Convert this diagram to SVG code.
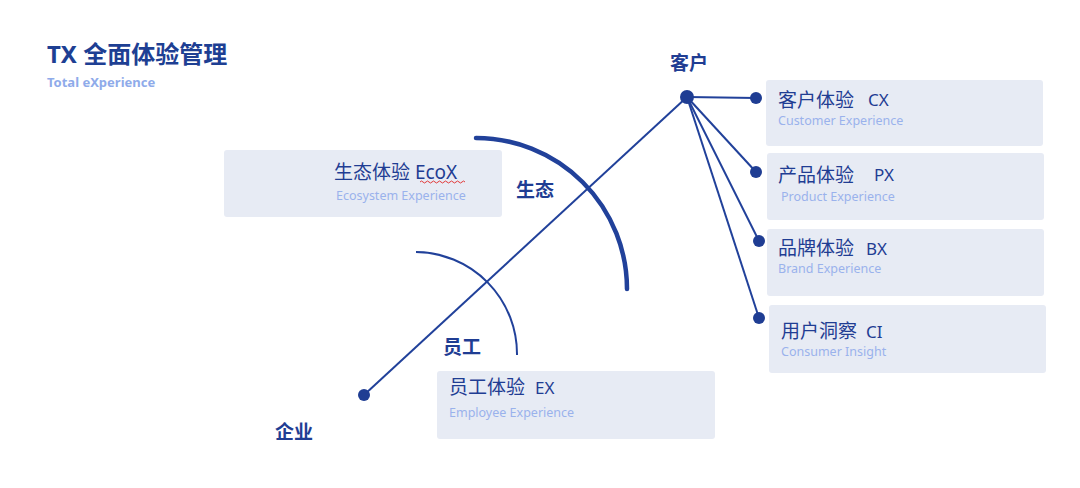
<svg xmlns="http://www.w3.org/2000/svg" width="1080" height="488" viewBox="0 0 1080 488">
<style>
text{font-family:"Noto Sans","Noto Sans CJK SC",sans-serif}
.box{fill:#E7EBF4;}
.main{fill:#1F3D93;font-size:19px}
.sub{fill:#9AB2EC;font-size:12.5px}
.lbl{fill:#1F3D93;font-size:19px;font-weight:bold}
.ln{stroke:#21419A;stroke-width:2;fill:none}
.dot{fill:#1F3D93}
</style>
<rect width="1080" height="488" fill="#fff"/>
<g id="title">
<text x="47" y="63" style="font-size:24px;font-weight:bold;fill:#1E3F93">TX 全面体验管理</text>
<text x="47" y="87" style="font-size:13px;font-weight:bold;fill:#8FABEA">Total eXperience</text>
</g>
<g id="arcs">
<path d="M476,138 A151,151 0 0 1 627,289" stroke="#21419A" stroke-width="4.5" fill="none" stroke-linecap="round"/>
<path d="M416,252 A102,102 0 0 1 517,355" class="ln"/>
</g>
<g id="connectors">
<line x1="364" y1="395" x2="687" y2="97" class="ln"/>
<line x1="687" y1="97" x2="756" y2="98" class="ln"/>
<line x1="687" y1="97" x2="756" y2="172" class="ln"/>
<line x1="687" y1="97" x2="759" y2="241" class="ln"/>
<line x1="687" y1="97" x2="759" y2="318" class="ln"/>
<circle cx="364" cy="395" r="6" class="dot"/>
<circle cx="687" cy="97" r="7" class="dot"/>
<circle cx="756" cy="98" r="6" class="dot"/>
<circle cx="756" cy="172" r="6" class="dot"/>
<circle cx="759" cy="241" r="6" class="dot"/>
<circle cx="759" cy="318" r="6" class="dot"/>
</g>
<g id="labels">
<text x="670" y="70" class="lbl">客户</text>
<text x="516" y="197" class="lbl">生态</text>
<text x="443" y="354" class="lbl">员工</text>
<text x="275" y="439" class="lbl">企业</text>
</g>
<g id="ecox">
<rect x="224" y="150" width="278" height="67" rx="3" class="box"/>
<text x="334" y="179" class="main">生态体验  EcoX</text>
<path d="M420,182 q1.5,-2 3,0 t3,0 t3,0 t3,0 t3,0 t3,0 t3,0 t3,0 t3,0 t3,0 t3,0 t3,0 t3,0 t3,0 t3,0" stroke="#E23A3A" stroke-width="1" fill="none"/>
<text x="336" y="200" class="sub">Ecosystem Experience</text>
</g>
<g id="cx">
<rect x="766" y="80" width="277" height="66" rx="3" class="box"/>
<text x="778" y="107" class="main">客户体验</text>
<text x="868" y="106" class="main" style="font-size:17px">CX</text>
<text x="778" y="125" class="sub">Customer Experience</text>
</g>
<g id="px">
<rect x="767" y="153" width="277" height="67" rx="3" class="box"/>
<text x="778" y="182" class="main">产品体验</text>
<text x="874" y="181" class="main" style="font-size:17px">PX</text>
<text x="781" y="201" class="sub">Product Experience</text>
</g>
<g id="bx">
<rect x="767" y="229" width="277" height="67" rx="3" class="box"/>
<text x="778" y="255" class="main">品牌体验</text>
<text x="866" y="255" class="main" style="font-size:17px">BX</text>
<text x="778" y="273" class="sub">Brand Experience</text>
</g>
<g id="ci">
<rect x="769" y="305" width="277" height="68" rx="3" class="box"/>
<text x="781" y="338" class="main">用户洞察</text>
<text x="866" y="338" class="main" style="font-size:17px">CI</text>
<text x="781" y="356" class="sub">Consumer Insight</text>
</g>
<g id="ex">
<rect x="437" y="371" width="278" height="68" rx="3" class="box"/>
<text x="449" y="394" class="main">员工体验</text>
<text x="535" y="394" class="main" style="font-size:17px">EX</text>
<text x="449" y="417" class="sub">Employee Experience</text>
</g>
</svg>
